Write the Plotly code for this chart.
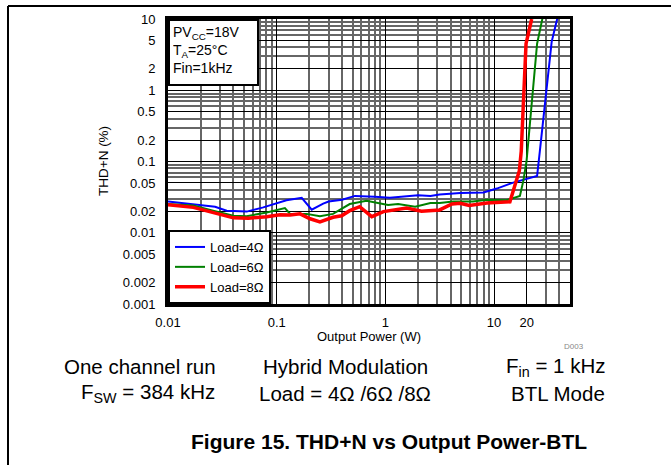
import plotly.graph_objects as go

# ---------------- data ----------------
blue_x = [0.01, 0.0171, 0.0271, 0.0347, 0.053, 0.0753, 0.123, 0.170, 0.21, 0.268, 0.30, 0.40,
          0.525, 0.80, 1.10, 2.0, 2.6, 3.16, 4.9, 8.0, 10.6, 15.0, 19.9, 24.9, 26.4, 30.5, 33.9, 37.5, 38.5]
blue_y = [0.0275, 0.0253, 0.0232, 0.0204, 0.0198, 0.0227, 0.0286, 0.031, 0.0211, 0.0257, 0.0275, 0.029,
          0.0329, 0.032, 0.031, 0.0337, 0.0327, 0.0345, 0.036, 0.0367, 0.0417, 0.0506, 0.0564, 0.0626, 0.14, 0.96, 4.78, 9.1, 10.5]

green_x = [0.01, 0.0171, 0.026, 0.0399, 0.053, 0.081, 0.119, 0.133, 0.189, 0.25, 0.33, 0.47, 0.67,
           1.06, 1.31, 1.88, 2.6, 3.16, 4.2, 6.4, 8.6, 13.0, 17.3, 18.6, 19.9, 24.9, 28.0]
green_y = [0.0253, 0.0241, 0.0204, 0.0173, 0.0171, 0.0193, 0.0222, 0.0184, 0.0184, 0.0171, 0.0184, 0.0253, 0.0280,
           0.0245, 0.0253, 0.0232, 0.0262, 0.0262, 0.0275, 0.0275, 0.029, 0.0286, 0.0329, 0.0534, 0.10, 4.5, 10.5]

red_x = [0.01, 0.0138, 0.0171, 0.029, 0.0399, 0.055, 0.081, 0.107, 0.133, 0.164, 0.203, 0.25, 0.33, 0.396,
         0.47, 0.58, 0.75, 0.96, 1.57, 2.15, 3.16, 4.1, 4.9, 5.9, 8.6, 14.0, 15.6, 17.1, 17.8, 19.7, 22.2]
red_y = [0.0247, 0.0237, 0.0227, 0.0184, 0.0162, 0.016, 0.0168, 0.0179, 0.0178, 0.0184, 0.0157, 0.0142, 0.0165, 0.0173,
         0.0204, 0.0232, 0.0168, 0.0198, 0.0222, 0.020, 0.0209, 0.0253, 0.0259, 0.0241, 0.0262, 0.0272, 0.0482, 0.0742, 0.14, 4.5, 10.0]

series_names = ["Load=4Ω", "Load=6Ω", "Load=8Ω"]

x_tickvals = [0.01, 0.1, 1, 10, 20]
x_ticktext = ["0.01", "0.1", "1", "10", "20"]
y_tickvals = [0.001, 0.002, 0.005, 0.01, 0.02, 0.05, 0.1, 0.2, 0.5, 1, 2, 5, 10]
y_ticktext = ["0.001", "0.002", "0.005", "0.01", "0.02", "0.05", "0.1", "0.2", "0.5", "1", "2", "5", "10"]

x_minor = [m * 10 ** k for k in range(-2, 2) for m in range(2, 10) if m * 10 ** k < 50 and m * 10 ** k not in x_tickvals]
y_minor = [m * 10 ** k for k in range(-3, 1) for m in range(2, 10) if m * 10 ** k not in y_tickvals]

FONT = "Liberation Sans, Arial, sans-serif"

fig = go.Figure()
fig.add_trace(go.Scatter(x=blue_x, y=blue_y, mode="lines", name=series_names[0],
                         line=dict(color="#0000FF", width=2)))
fig.add_trace(go.Scatter(x=green_x, y=green_y, mode="lines", name=series_names[1],
                         line=dict(color="#008000", width=2)))
fig.add_trace(go.Scatter(x=red_x, y=red_y, mode="lines", name=series_names[2],
                         line=dict(color="#FF0000", width=3.5)))

# plot area: x 168..570, y 17..304 in a 671x465 canvas
L, R, T, B = 168, 570, 17, 304
W, H = 671, 465


def px(x):
    return (x - L) / (R - L)


def py(y):
    return (B - y) / (B - T)


fig.update_layout(
    width=W, height=H,
    margin=dict(l=L, r=W - R, t=T, b=H - B, pad=0),
    paper_bgcolor="white", plot_bgcolor="white",
    font=dict(family=FONT, size=13, color="black"),
    showlegend=True,
    legend=dict(x=0, y=0, xanchor="left", yanchor="bottom",
                bgcolor="white", bordercolor="black", borderwidth=2,
                font=dict(family=FONT, size=13, color="black"),
                itemwidth=30, tracegroupgap=0),
    xaxis=dict(type="log", range=[-2, 1.699], tickvals=x_tickvals, ticktext=x_ticktext,
               showgrid=True, gridcolor="black", gridwidth=1,
               minor=dict(tickvals=x_minor, showgrid=True, gridcolor="#666666", gridwidth=1.5, ticks=""),
               ticks="", ticklabelstandoff=4,
               showline=True, linecolor="black", linewidth=3, mirror=True,
               tickfont=dict(size=13), zeroline=False),
    yaxis=dict(type="log", range=[-3, 1], tickvals=y_tickvals, ticktext=y_ticktext,
               showgrid=True, gridcolor="black", gridwidth=1,
               minor=dict(tickvals=y_minor, showgrid=True, gridcolor="#666666", gridwidth=1.5, ticks=""),
               ticks="", ticklabelstandoff=7,
               showline=True, linecolor="black", linewidth=3, mirror=True,
               tickfont=dict(size=13), zeroline=False),
)


def text_at(x, y, t, size, color="black", angle=0):
    return dict(xref="paper", yref="paper", x=px(x), y=py(y), xanchor="center", yanchor="middle",
                text=t, textangle=angle, showarrow=False,
                font=dict(family=FONT, size=size, color=color))


ann = []
# condition box
ann.append(dict(xref="paper", yref="paper", x=0, y=1, xanchor="left", yanchor="top",
                text="PV<sub>CC</sub>=18V<br>T<sub>A</sub>=25°C<br>Fin=1kHz",
                showarrow=False, align="left", valign="top",
                font=dict(family=FONT, size=14, color="black"),
                bgcolor="white", bordercolor="black", borderwidth=2, borderpad=3,
                width=81, height=57))
# axis titles
ann.append(text_at(369, 337, "Output Power (W)", 13))
ann.append(text_at(103, 160, "THD+N (%)", 13.5, angle=-90))
ann.append(text_at(574, 347, "D003", 8, color="#888888"))
# condition lines below the chart
rows = [
    [(140, "One channel run"), (345, "Hybrid Modulation"), (555, "F<sub>in</sub> = 1 kHz")],
    [(148, "F<sub>SW</sub> = 384 kHz"), (345, "Load = 4Ω /6Ω /8Ω"), (558, "BTL Mode")],
]
for yy, row in zip([367, 394], rows):
    for xx, t in row:
        ann.append(text_at(xx, yy, t, 20.5))
ann.append(text_at(389, 442, "<b>Figure 15. THD+N vs Output Power-BTL</b>", 21))
fig.update_layout(annotations=ann)

# page frame
fig.add_shape(type="line", xref="paper", yref="paper", x0=px(8), x1=px(671), y0=py(4), y1=py(4),
              line=dict(color="black", width=2))
fig.add_shape(type="line", xref="paper", yref="paper", x0=px(8), x1=px(8), y0=py(4), y1=py(470),
              line=dict(color="black", width=2))

fig.write_html("out.html")
